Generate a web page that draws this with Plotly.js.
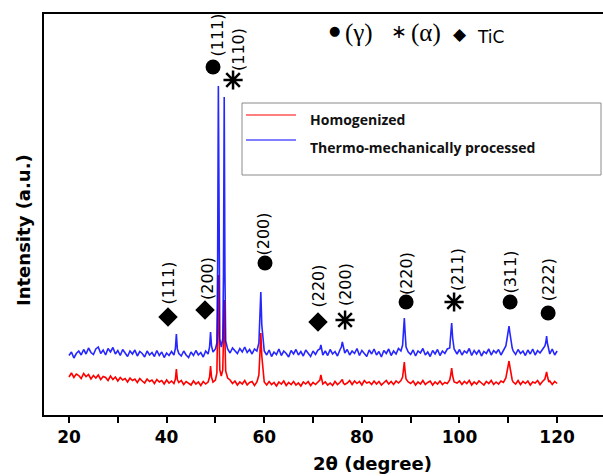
<!DOCTYPE html>
<html>
<head>
<meta charset="utf-8">
<script src="https://cdn.plot.ly/plotly-3.0.1.min.js"></script>
<style>html,body{margin:0;padding:0;background:#fff;overflow:hidden}#chart{width:603px;height:476px}</style>
</head>
<body>
<div id="chart"></div>
<script>
// 2θ sampling (degree)
const twoTheta = [
  20,20.5,21,21.5,22,22.5,23,23.5,24,24.5,25,25.5,26,26.5,27,27.5,28,28.5,29,29.5,30,30.5,31,31.5,32,32.5,33,33.5,34,34.5,35,35.5,36,36.5,37,37.5,38,38.5,39,39.5,40,40.5,41,41.5,
  41.8,42,42.2,42.5,
  43,43.5,44,44.5,45,45.5,46,46.5,47,47.5,48,48.5,
  48.8,49,49.2,49.5,50,
  50.3,50.45,50.6,50.75,50.9,51.2,51.5,51.65,51.8,51.95,52.1,52.5,
  53,53.5,54,54.5,55,55.5,56,56.5,57,57.5,58,58.5,
  58.9,59.1,59.3,59.5,59.8,60,
  60.5,61,61.5,62,62.5,63,63.5,64,64.5,65,65.5,66,66.5,67,67.5,68,68.5,69,69.5,70,70.5,71,
  71.4,71.6,71.8,72,
  72.5,73,73.5,74,74.5,75,75.5,
  75.8,76,76.2,76.5,
  77,77.5,78,78.5,79,79.5,80,80.5,81,81.5,82,82.5,83,83.5,84,84.5,85,85.5,86,86.5,87,87.5,88,
  88.35,88.55,88.7,88.85,89.05,89.5,
  90,90.5,91,91.5,92,92.5,93,93.5,94,94.5,95,95.5,96,96.5,97,97.5,98,
  98.2,98.4,98.6,98.9,
  99.5,100,100.5,101,101.5,102,102.5,103,103.5,104,104.5,105,105.5,106,106.5,107,107.5,108,108.5,109,109.5,
  109.8,110,110.15,110.3,110.5,110.8,
  111,111.5,112,112.5,113,113.5,114,114.5,115,115.5,116,116.5,117,117.5,
  117.7,117.85,118,118.3,
  118.5,119,119.5,120
];
// Homogenized intensity (a.u.)
const homogenized = [
  380,420,375,410,395,365,415,385,405,360,395,370,400,355,385,375,345,390,355,380,340,375,350,365,330,370,345,360,325,365,340,320,360,335,350,315,355,330,345,310,350,320,340,315,
  360,460,355,325,
  345,305,335,320,300,340,310,330,295,335,310,330,
  380,490,380,330,350,
  420,800,1400,800,450,390,450,760,1150,760,440,370,
  350,315,340,300,330,310,345,300,325,335,295,330,
  400,600,820,590,380,330,
  300,335,305,325,290,330,310,340,295,325,305,335,300,320,290,330,310,335,295,325,305,330,
  350,400,345,310,
  330,300,320,295,335,305,325,
  340,355,320,305,
  320,345,305,340,315,335,300,345,320,330,305,340,310,335,300,325,345,310,335,305,340,320,345,
  380,460,530,440,360,330,
  315,340,300,330,310,345,305,325,340,300,330,310,340,305,325,315,350,
  400,470,390,330,
  320,340,305,335,315,345,300,330,310,340,320,300,335,315,345,305,330,310,340,325,370,
  440,520,540,490,410,350,
  330,310,345,305,335,315,340,300,330,320,345,305,335,360,
  400,430,390,330,
  340,305,335,315
];
// Thermo-mechanically processed intensity (a.u.)
const thermoMech = [
  595,630,570,615,640,600,655,610,670,625,605,660,680,615,650,600,665,630,675,610,645,595,655,620,585,640,610,650,590,635,615,580,640,600,625,585,645,595,630,575,620,595,635,600,
  665,810,660,615,
  590,640,600,575,630,595,645,600,625,580,640,610,
  680,830,690,630,660,
  720,1500,3290,1500,760,680,760,1400,3180,1400,740,660,
  620,670,640,615,665,630,680,625,655,610,660,640,
  720,920,1230,900,700,640,
  600,650,585,630,605,660,595,640,615,580,645,610,655,600,635,590,650,620,585,640,605,650,
  660,700,650,600,
  640,595,655,610,635,590,650,
  680,730,670,620,
  655,600,640,615,665,595,645,620,585,650,610,660,600,635,580,645,615,660,595,640,610,665,640,
  700,850,970,830,680,630,
  605,650,590,640,620,665,600,630,585,645,610,655,595,640,615,660,670,
  800,920,770,660,
  610,655,600,640,620,665,595,645,610,650,590,635,615,660,600,645,620,655,600,650,690,
  780,860,890,830,740,670,
  640,605,655,615,640,595,650,610,660,600,645,620,655,690,
  730,790,720,650,
  610,660,600,640
];

// Peak labels: Miller index, phase, marker position, label position
const peakHKL   = ['(111)','(200)','(111)','(110)','(200)','(220)','(200)','(220)','(211)','(311)','(222)'];
const peakPhase = ['TiC','TiC','γ','α','γ','TiC','α','γ','α','γ','γ'];
const markX  = [40.29, 47.87, 49.51, 53.61, 60.16, 71.02, 76.56, 89.06, 98.89, 110.37, 118.16];
const markY  = [980, 1050, 3480, 3350, 1520, 930, 950, 1130, 1130, 1130, 1020];
const labelX = [40.29, 48.28, 50.33, 54.63, 59.75, 71.02, 76.56, 89.06, 99.5, 110.37, 118.16];
const labelY = [1315, 1360, 3795, 3650, 1805, 1285, 1300, 1410, 1450, 1425, 1350];

const seriesNames = ['Homogenized', 'Thermo-mechanically processed'];

// ---------- build ----------
const phaseSymbol = {'γ': 'circle', 'α': 'asterisk-open', 'TiC': 'diamond'};
const phaseSize = {'γ': 15, 'α': 16, 'TiC': 15};

const traces = [
  {x: twoTheta, y: homogenized, name: seriesNames[0], type: 'scatter', mode: 'lines',
   line: {color: '#ff0000', width: 1.6}, showlegend: false, hoverinfo: 'skip'},
  {x: twoTheta, y: thermoMech, name: seriesNames[1], type: 'scatter', mode: 'lines',
   line: {color: 'rgba(0,0,255,0.85)', width: 1.6}, showlegend: false, hoverinfo: 'skip'}
];
['γ','α','TiC'].forEach(ph => {
  const xs = [], ys = [];
  peakPhase.forEach((p, i) => { if (p === ph) { xs.push(markX[i]); ys.push(markY[i]); } });
  traces.push({x: xs, y: ys, type: 'scatter', mode: 'markers', showlegend: false, hoverinfo: 'skip',
    cliponaxis: false,
    marker: {symbol: phaseSymbol[ph], size: phaseSize[ph], color: '#000',
             line: {color: '#000', width: ph === 'α' ? 2.5 : 0}}});
});

// pixel helpers for paper positions (plot area: x 44..603, y 14..415)
const L = 44, R = 603, T = 14, B = 415;
const px = v => (v - L) / (R - L);
const py = v => (B - v) / (B - T);

const annotations = [];
peakHKL.forEach((t, i) => {
  annotations.push({x: labelX[i], y: labelY[i], xref: 'x', yref: 'y', text: t, showarrow: false,
    textangle: -90, xanchor: 'center', yanchor: 'middle',
    font: {family: 'DejaVu Sans', size: 16, color: '#000'}});
});
// axis titles
annotations.push({x: px(372.5), y: py(463), xref: 'paper', yref: 'paper', text: '2θ (degree)', showarrow: false,
  xanchor: 'center', yanchor: 'middle', font: {family: 'DejaVu Sans', size: 18, weight: 'bold', color: '#000'}});
annotations.push({x: px(23), y: py(230), xref: 'paper', yref: 'paper', text: 'Intensity (a.u.)', showarrow: false,
  textangle: -90, xanchor: 'center', yanchor: 'middle', font: {family: 'DejaVu Sans', size: 18, weight: 'bold', color: '#000'}});
// phase key
const keyItems = [
  {t: '●', x: 334, y: 30.5, f: 'DejaVu Sans', s: 13},
  {t: '(γ)', x: 359, y: 33, f: 'Liberation Serif', s: 25},
  {t: '∗', x: 399, y: 31, f: 'Liberation Serif', s: 19},
  {t: '(α)', x: 425.5, y: 33, f: 'Liberation Serif', s: 25},
  {t: '◆', x: 460, y: 34.5, f: 'DejaVu Sans', s: 17},
  {t: 'TiC', x: 490.5, y: 37, f: 'DejaVu Sans', s: 17}
];
keyItems.forEach(k => annotations.push({x: px(k.x), y: py(k.y), xref: 'paper', yref: 'paper', text: k.t,
  showarrow: false, xanchor: 'center', yanchor: 'middle', font: {family: k.f, size: k.s, color: '#000'}}));
// series legend
annotations.push({x: px(308), y: py(120), xref: 'paper', yref: 'paper', text: seriesNames[0], showarrow: false,
  xanchor: 'left', yanchor: 'middle', font: {family: 'Open Sans', size: 14, weight: 'bold', color: '#111'}});
annotations.push({x: px(308), y: py(147), xref: 'paper', yref: 'paper', text: seriesNames[1], showarrow: false,
  xanchor: 'left', yanchor: 'middle', font: {family: 'Open Sans', size: 14, weight: 'bold', color: '#111'}});

const shapes = [
  {type: 'rect', xref: 'paper', yref: 'paper', x0: px(242), x1: px(601), y0: py(175), y1: py(103),
   line: {color: '#8a8a8a', width: 1}, fillcolor: '#ffffff', layer: 'above'},
  {type: 'line', xref: 'paper', yref: 'paper', x0: px(246), x1: px(296), y0: py(115), y1: py(115),
   line: {color: '#ff0000', width: 1}, layer: 'above'},
  {type: 'line', xref: 'paper', yref: 'paper', x0: px(246), x1: px(296), y0: py(140), y1: py(140),
   line: {color: '#0000ff', width: 1}, layer: 'above'}
];

const layout = {
  width: 603, height: 476,
  margin: {l: L, r: 0, t: T, b: 476 - B},
  paper_bgcolor: '#fff', plot_bgcolor: '#fff',
  showlegend: false,
  xaxis: {
    range: [14.88, 129.4], showgrid: false, zeroline: false,
    showline: true, linecolor: '#000', linewidth: 2, mirror: true,
    ticks: 'outside', ticklen: 6, tickwidth: 2, tickcolor: '#000',
    tick0: 0, dtick: 20,
    minor: {tick0: 0, dtick: 10, ticks: 'outside', ticklen: 6, tickwidth: 2, tickcolor: '#000'},
    tickfont: {family: 'DejaVu Sans', size: 17, weight: 'bold', color: '#000'}
  },
  yaxis: {
    range: [0, 4010], showgrid: false, zeroline: false,
    showline: true, linecolor: '#000', linewidth: 2,
    ticks: '', showticklabels: false
  },
  annotations: annotations,
  shapes: shapes
};

Plotly.newPlot('chart', traces, layout, {staticPlot: true, displayModeBar: false});
</script>
</body>
</html>
